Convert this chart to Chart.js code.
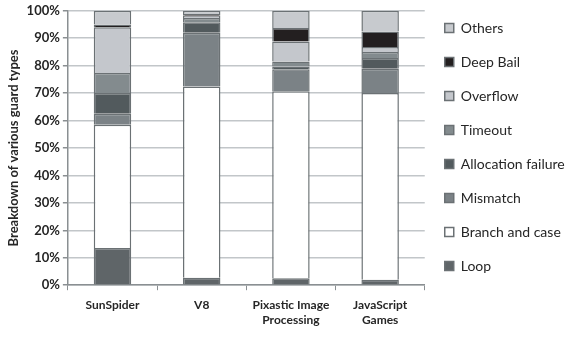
<!DOCTYPE html>
<html>
<head>
<meta charset="utf-8">
<script src="https://cdn.jsdelivr.net/npm/chart.js@4"></script>
<style>
  body { margin: 0; background: #fff; }
  #wrap { width: 573px; height: 337px; }
</style>
</head>
<body>
<div id="wrap"><canvas id="c" width="573" height="337"></canvas></div>
<script>
var categories = ['SunSpider', 'V8', ['Pixastic Image', 'Processing'], ['JavaScript', 'Games']];

// percent of guards per type, bottom to top
var loop        = [13.6, 2.7, 2.5, 2.0];
var branch      = [44.9, 69.7, 68.2, 68.0];
var mismatch    = [4.0, 19.6, 8.0, 8.9];
var allocation  = [7.5, 3.8, 1.0, 3.9];
var timeout     = [7.3, 1.6, 1.8, 2.2];
var overflow    = [16.7, 0.8, 7.3, 1.8];
var deepBail    = [1.0, 0.6, 4.9, 5.7];
var others      = [5.0, 1.2, 6.3, 7.5];

var seriesNames = ['Loop', 'Branch and case', 'Mismatch', 'Allocation failure', 'Timeout', 'Overflow', 'Deep Bail', 'Others'];
var seriesData = [loop, branch, mismatch, allocation, timeout, overflow, deepBail, others];
var seriesColors = ['#5f6568', '#ffffff', '#7b8286', '#525a5d', '#838b8e', '#c4c7cc', '#231f20', '#c7cace'];

var datasets = [];
for (let i = 0; i < seriesNames.length; i++) {
    datasets.push({
        label: seriesNames[i],
        data: seriesData[i],
        backgroundColor: seriesColors[i],
        borderColor: '#6b7174',
        borderWidth: 1.5,
        barPercentage: 0.42,
        categoryPercentage: 1.0,
    });
}

var font = 'Lato, "Open Sans", sans-serif';

// nudge the legend up a little, the original sits higher than the plot top
var legendNudge = {
    id: 'legendNudge',
    afterLayout: function (chart) {
        chart.legend.top -= 5;
        chart.legend.bottom -= 5;
    },
};

new Chart(document.getElementById('c'), {
    type: 'bar',
    data: { labels: categories, datasets: datasets },
    plugins: [legendNudge],
    options: {
        responsive: false,
        animation: false,
        layout: { padding: { top: 6, left: 4, right: 8, bottom: 2 } },
        plugins: {
            tooltip: { enabled: false },
            legend: {
                position: 'right',
                align: 'start',
                reverse: true,
                labels: {
                    boxWidth: 9,
                    boxHeight: 9,
                    padding: 20,
                    color: '#262626',
                    font: { family: font, size: 14 },
                },
            },
        },
        scales: {
            x: {
                stacked: true,
                grid: { display: true, drawOnChartArea: false, offset: true, tickLength: 5, color: '#8a8f92' },
                border: { color: '#8a8f92', width: 1.5 },
                ticks: { color: '#262626', font: { family: font, size: 12, weight: 'bold' }, maxRotation: 0, padding: 8 },
            },
            y: {
                stacked: true,
                min: 0,
                max: 100,
                grid: { color: '#c2c6c9', lineWidth: 1.5, tickLength: 5, tickColor: '#8a8f92' },
                border: { color: '#8a8f92', width: 1.5 },
                ticks: {
                    stepSize: 10,
                    color: '#262626',
                    font: { family: font, size: 13, weight: 'bold' },
                    callback: function (v) { return v + '%'; },
                },
                title: {
                    display: true,
                    text: 'Breakdown of various guard types',
                    color: '#262626',
                    font: { family: font, size: 13, weight: 'bold' },
                    padding: 2,
                },
            },
        },
    },
});
</script>
</body>
</html>
